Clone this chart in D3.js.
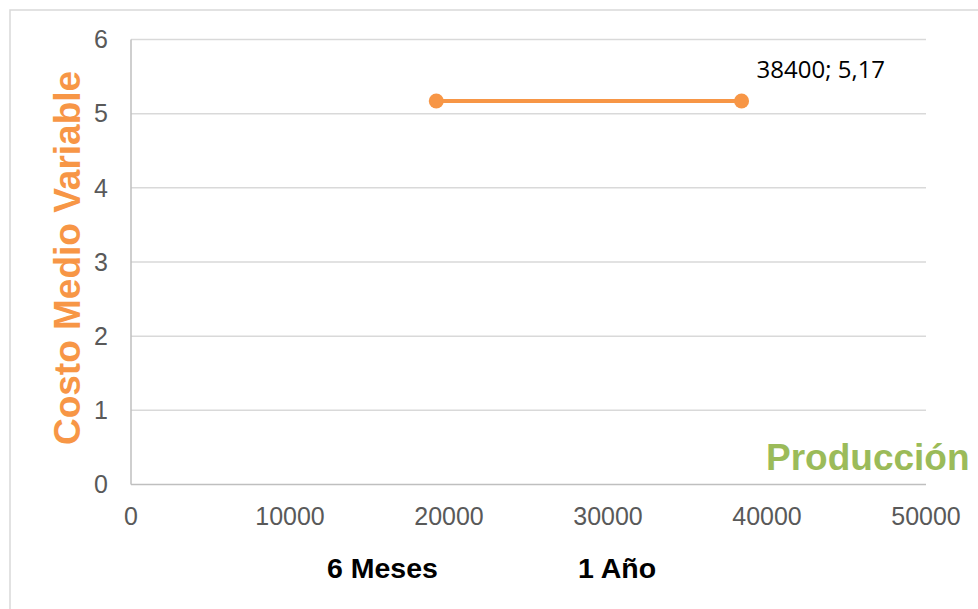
<!DOCTYPE html>
<html>
<head>
<meta charset="utf-8">
<script src="https://cdn.jsdelivr.net/npm/d3@7"></script>
<style>
  body { margin: 0; background: #fff; }
  svg { display: block; }
</style>
</head>
<body>
<script>
// data
let production = [19200, 38400];
let avgVarCost = [5.17, 5.17];
let xTicks = [0, 10000, 20000, 30000, 40000, 50000];
let yTicks = [0, 1, 2, 3, 4, 5, 6];
let periodLabels = ["6 Meses", "1 Año"];

let width = 978;
let height = 609;

let orange = "#F79646";
let green = "#9BBB59";

const svg = d3.select("body").append("svg")
  .attr("width", width)
  .attr("height", height);

// chart frame (right/bottom edges run off the picture)
svg.append("rect")
  .attr("x", 10)
  .attr("y", 10)
  .attr("width", 1000)
  .attr("height", 640)
  .attr("fill", "none")
  .attr("stroke", "#D9D9D9")
  .attr("stroke-width", 1.5);

let x = d3.scaleLinear()
  .domain([0, 50000])
  .range([131, 926]);

let y = d3.scaleLinear()
  .domain([0, 6])
  .range([484.5, 39.5]);

// gridlines
svg.append("g")
  .selectAll("line")
  .data(yTicks.filter(d => d > 0))
  .join("line")
  .attr("x1", x(0))
  .attr("x2", x(50000))
  .attr("y1", d => y(d))
  .attr("y2", d => y(d))
  .attr("stroke", "#D9D9D9")
  .attr("stroke-width", 1.5);

// axis lines
svg.append("line")
  .attr("x1", x(0)).attr("x2", x(0))
  .attr("y1", y(0)).attr("y2", y(6))
  .attr("stroke", "#BFBFBF")
  .attr("stroke-width", 1.5);

svg.append("line")
  .attr("x1", x(0)).attr("x2", x(50000))
  .attr("y1", y(0)).attr("y2", y(0))
  .attr("stroke", "#BFBFBF")
  .attr("stroke-width", 1.5);

// tick labels
svg.append("g")
  .attr("font-family", "Liberation Sans, Arial, sans-serif")
  .attr("font-size", 25)
  .attr("fill", "#595959")
  .attr("text-anchor", "middle")
  .selectAll("text")
  .data(xTicks)
  .join("text")
  .attr("x", d => x(d))
  .attr("y", 525)
  .text(d => d);

svg.append("g")
  .attr("font-family", "Liberation Sans, Arial, sans-serif")
  .attr("font-size", 25)
  .attr("fill", "#595959")
  .attr("text-anchor", "end")
  .selectAll("text")
  .data(yTicks)
  .join("text")
  .attr("x", 108)
  .attr("y", d => y(d))
  .attr("dy", "0.35em")
  .text(d => d);

// series
let pts = production.map((p, i) => ({ x: p, y: avgVarCost[i] }));

svg.append("path")
  .datum(pts)
  .attr("fill", "none")
  .attr("stroke", orange)
  .attr("stroke-width", 4)
  .attr("d", d3.line().x(d => x(d.x)).y(d => y(d.y)));

svg.append("g")
  .selectAll("circle")
  .data(pts)
  .join("circle")
  .attr("cx", d => x(d.x))
  .attr("cy", d => y(d.y))
  .attr("r", 7.5)
  .attr("fill", orange);

// data label on last point
let last = pts[pts.length - 1];
svg.append("text")
  .attr("x", x(last.x) + 15)
  .attr("y", y(last.y) - 23)
  .attr("font-family", "Open Sans, sans-serif")
  .attr("font-size", 24)
  .attr("fill", "#000")
  .text(`${last.x}; ${String(last.y).replace(".", ",")}`);

// axis titles
svg.append("text")
  .attr("transform", "translate(80,258) rotate(-90)")
  .attr("text-anchor", "middle")
  .attr("font-family", "Liberation Sans, Arial, sans-serif")
  .attr("font-weight", "bold")
  .attr("font-size", 37)
  .attr("fill", orange)
  .text("Costo Medio Variable");

svg.append("text")
  .attr("x", 766)
  .attr("y", 470)
  .attr("font-family", "Liberation Sans, Arial, sans-serif")
  .attr("font-weight", "bold")
  .attr("font-size", 37)
  .attr("fill", green)
  .text("Producción");

// period labels below the axis
svg.append("g")
  .attr("font-family", "Liberation Sans, Arial, sans-serif")
  .attr("font-weight", "bold")
  .attr("font-size", 28.5)
  .attr("fill", "#000")
  .selectAll("text")
  .data(periodLabels)
  .join("text")
  .attr("x", (d, i) => [327, 578][i])
  .attr("y", 578)
  .text(d => d);
</script>
</body>
</html>
